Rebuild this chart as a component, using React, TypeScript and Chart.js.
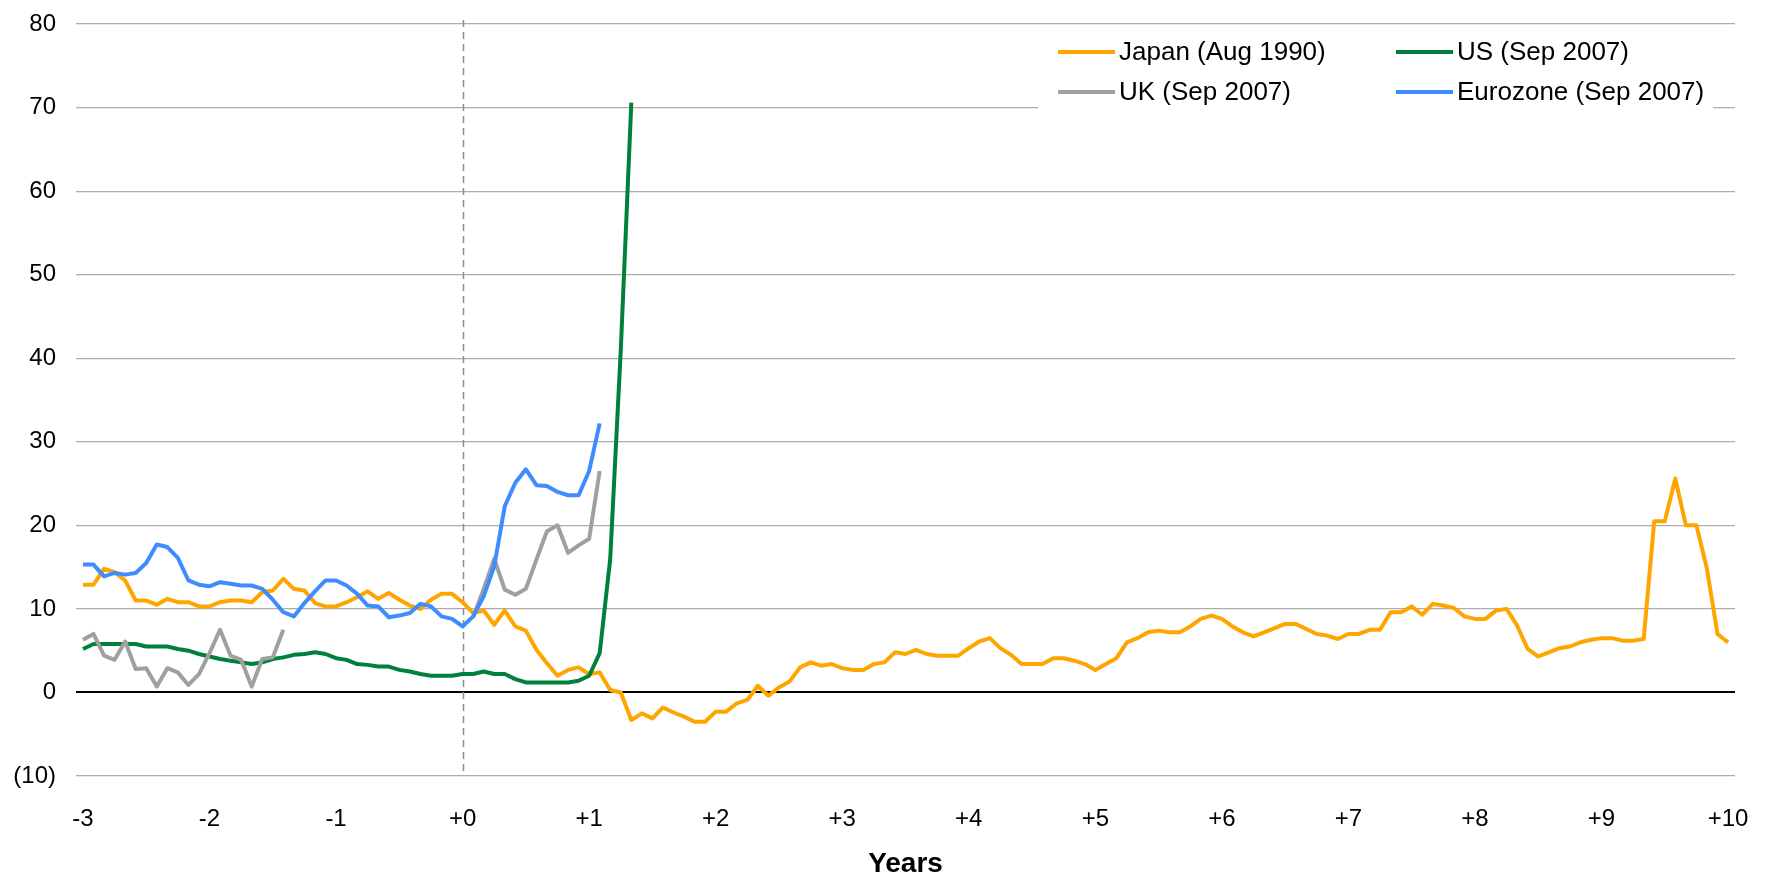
import React, { useEffect, useRef } from 'react';
import { Chart, registerables } from 'chart.js';

Chart.register(...registerables);

// ---- data (monthly, starting 3 years before the event) ----
const START_YEAR = -3;
const MONTHS_PER_YEAR = 12;
const yearTicks = [-3, -2, -1, 0, 1, 2, 3, 4, 5, 6, 7, 8, 9, 10];

const seriesLabels = ['Japan (Aug 1990)', 'US (Sep 2007)', 'UK (Sep 2007)', 'Eurozone (Sep 2007)'];
const seriesColors = ['#FFA500', '#00803A', '#A0A0A0', '#3F8CFF'];

const japan = [
  12.9, 12.9, 14.8, 14.4, 13.4, 11.0, 11.0, 10.5, 11.2, 10.8,
  10.8, 10.3, 10.3, 10.8, 11.0, 11.0, 10.8, 12.0, 12.2, 13.6,
  12.4, 12.2, 10.7, 10.3, 10.3, 10.8, 11.4, 12.1, 11.2, 11.9,
  11.1, 10.4, 10.0, 11.1, 11.8, 11.8, 10.8, 9.5, 9.8, 8.1,
  9.8, 7.9, 7.4, 5.1, 3.5, 2.0, 2.7, 3.0, 2.2, 2.4,
  0.3, 0.0, -3.3, -2.5, -3.1, -1.8, -2.4, -2.9, -3.5, -3.5,
  -2.3, -2.3, -1.3, -0.9, 0.8, -0.4, 0.6, 1.3, 3.0, 3.6,
  3.2, 3.4, 2.9, 2.7, 2.7, 3.4, 3.6, 4.8, 4.6, 5.1,
  4.6, 4.4, 4.4, 4.4, 5.3, 6.1, 6.5, 5.3, 4.5, 3.4,
  3.4, 3.4, 4.1, 4.1, 3.8, 3.4, 2.7, 3.4, 4.1, 6.0,
  6.5, 7.2, 7.4, 7.2, 7.2, 7.9, 8.8, 9.2, 8.8, 7.9,
  7.2, 6.7, 7.2, 7.7, 8.2, 8.2, 7.6, 7.0, 6.8, 6.4,
  7.0, 7.0, 7.5, 7.5, 9.6, 9.6, 10.3, 9.3, 10.6, 10.4,
  10.1, 9.1, 8.8, 8.8, 9.8, 10.0, 8.0, 5.2, 4.3, 4.8,
  5.3, 5.5, 6.0, 6.3, 6.5, 6.5, 6.2, 6.2, 6.4, 20.5,
  20.5, 25.6, 20.0, 20.0, 14.8, 7.0, 6.0,
];

const us = [
  5.2, 5.8, 5.8, 5.8, 5.8, 5.8, 5.5, 5.5, 5.5, 5.2,
  5.0, 4.6, 4.3, 4.0, 3.8, 3.6, 3.4, 3.6, 4.0, 4.2,
  4.5, 4.6, 4.8, 4.6, 4.1, 3.9, 3.4, 3.3, 3.1, 3.1,
  2.7, 2.5, 2.2, 2.0, 2.0, 2.0, 2.2, 2.2, 2.5, 2.2,
  2.2, 1.6, 1.2, 1.2, 1.2, 1.2, 1.2, 1.4, 2.0, 4.7,
  16.0, 41.0, 70.6,
];

const uk: (number | null)[] = [
  6.3, 7.0, 4.4, 3.9, 6.1, 2.8, 2.9, 0.7, 2.9, 2.4,
  0.9, 2.2, 4.7, 7.5, 4.4, 3.9, 0.7, 4.0, 4.2, 7.5,
  null, null, null, null, null, null, null, null, null, null,
  null, null, null, null, null, null, null, 9.0, 12.4, 16.0,
  12.3, 11.7, 12.4, 15.9, 19.3, 20.0, 16.7, 17.6, 18.4, 26.5,
];

const eurozone = [
  15.3, 15.3, 13.9, 14.3, 14.1, 14.3, 15.5, 17.7, 17.4, 16.1,
  13.4, 12.9, 12.7, 13.2, 13.0, 12.8, 12.8, 12.4, 11.1, 9.6,
  9.1, 10.7, 12.1, 13.4, 13.4, 12.8, 11.8, 10.4, 10.3, 9.0,
  9.2, 9.5, 10.6, 10.3, 9.1, 8.8, 7.9, 9.1, 11.5, 15.1,
  22.3, 25.1, 26.7, 24.8, 24.7, 24.0, 23.6, 23.6, 26.5, 32.2,
];

const FONT = '"Liberation Sans", Arial, Helvetica, sans-serif';

const toPoints = (arr: (number | null)[]) =>
  arr.map((v, i) => ({ x: START_YEAR + i / MONTHS_PER_YEAR, y: v }));

const overlayPlugin = {
  id: 'overlay',
  beforeDatasetsDraw(chart: any) {
    const { ctx, chartArea, scales } = chart;
    const x0 = scales.x.getPixelForValue(0);
    ctx.save();
    ctx.strokeStyle = '#8C8C8C';
    ctx.lineWidth = 1.5;
    ctx.setLineDash([7, 5]);
    ctx.beginPath();
    ctx.moveTo(Math.round(x0) + 0.5, chartArea.top - 4);
    ctx.lineTo(Math.round(x0) + 0.5, chartArea.bottom);
    ctx.stroke();
    ctx.restore();
  },
  afterDatasetsDraw(chart: any) {
    const { ctx, chartArea } = chart;
    const boxLeft = chartArea.right - 697;
    const boxRight = chartArea.right - 22;
    ctx.save();
    ctx.fillStyle = '#FFFFFF';
    ctx.fillRect(boxLeft, chartArea.top + 6, boxRight - boxLeft, 90);
    const rows = [chartArea.top + 28, chartArea.top + 68];
    const cols = [chartArea.right - 677, chartArea.right - 339];
    const layout = [
      [0, 0, 0],
      [1, 1, 0],
      [2, 0, 1],
      [3, 1, 1],
    ];
    ctx.font = `26px ${FONT}`;
    ctx.textBaseline = 'middle';
    ctx.textAlign = 'left';
    layout.forEach(([ds, c, r]) => {
      const dataset = chart.data.datasets[ds];
      const x = cols[c];
      const y = rows[r];
      ctx.strokeStyle = dataset.borderColor;
      ctx.lineWidth = 4;
      ctx.setLineDash([]);
      ctx.beginPath();
      ctx.moveTo(x, y);
      ctx.lineTo(x + 57, y);
      ctx.stroke();
      ctx.fillStyle = '#000000';
      ctx.fillText(dataset.label, x + 61, y + 1);
    });
    ctx.restore();
  },
};

export default function App() {
  const canvasRef = useRef<HTMLCanvasElement | null>(null);

  useEffect(() => {
    document.body.style.margin = '0';
    const canvas = canvasRef.current;
    if (!canvas) return;
    const series = [japan, us, uk, eurozone];
    const orders = [3, 2, 1, 0];
    const chart = new Chart(canvas, {
      type: 'line',
      data: {
        datasets: series.map((s, i) => ({
          label: seriesLabels[i],
          data: toPoints(s),
          borderColor: seriesColors[i],
          backgroundColor: seriesColors[i],
          borderWidth: 4,
          pointRadius: 0,
          tension: 0,
          spanGaps: false,
          order: orders[i],
          borderJoinStyle: 'round' as const,
        })),
      },
      options: {
        responsive: false,
        animation: false,
        layout: { padding: { top: 24, right: 31, left: 0, bottom: 0 } },
        plugins: {
          legend: { display: false },
          tooltip: { enabled: false },
          title: { display: false },
        },
        scales: {
          x: {
            type: 'linear',
            min: -3.055,
            max: 10.055,
            afterBuildTicks: (scale: any) => {
              scale.ticks = yearTicks.map((v) => ({ value: v }));
            },
            afterFit: (scale: any) => {
              scale.height = 100;
              scale.paddingLeft = 0;
              scale.paddingRight = 0;
            },
            grid: { display: false, drawTicks: false },
            border: { display: false },
            ticks: {
              autoSkip: false,
              maxRotation: 0,
              padding: 29,
              color: '#000000',
              font: { family: FONT, size: 24 },
              callback: (v: any) => (Number(v) >= 0 ? `+${v}` : `${v}`),
            },
            title: {
              display: true,
              text: 'Years',
              color: '#000000',
              font: { family: FONT, size: 28, weight: 'bold', lineHeight: 0.85 },
              padding: { top: 0, bottom: 0 },
            },
          },
          y: {
            type: 'linear',
            min: -10,
            max: 80,
            afterFit: (scale: any) => {
              scale.width = 76;
              scale.paddingTop = 0;
              scale.paddingBottom = 0;
            },
            grid: {
              drawTicks: false,
              color: (c: any) => (c.tick && c.tick.value === 0 ? '#000000' : '#ADADAD'),
              lineWidth: (c: any) => (c.tick && c.tick.value === 0 ? 2 : 1.2),
            },
            border: { display: false },
            ticks: {
              stepSize: 10,
              padding: 20,
              color: '#000000',
              font: { family: FONT, size: 24 },
              callback: (v: any) => (Number(v) < 0 ? `(${-Number(v)})` : `${v}`),
            },
          },
        },
      },
      plugins: [overlayPlugin],
    } as any);
    return () => chart.destroy();
  }, []);

  return (
    <div style={{ width: 1766, height: 876, background: '#FFFFFF' }}>
      <canvas ref={canvasRef} width={1766} height={876} style={{ display: 'block' }} />
    </div>
  );
}
